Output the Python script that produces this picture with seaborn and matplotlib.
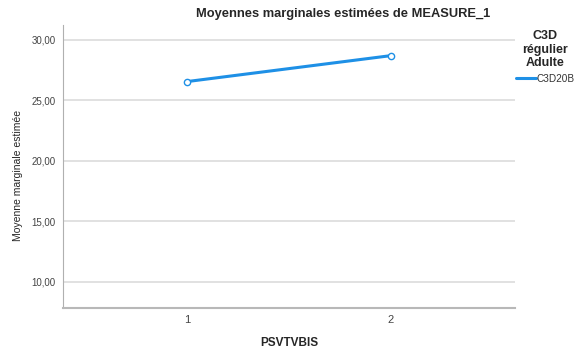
import matplotlib
matplotlib.use("Agg")
import matplotlib.pyplot as plt
import seaborn as sns
import pandas as pd

# Données
niveaux = [1, 2]
moyennes = [26.54, 28.68]
groupe = ["C3D20B", "C3D20B"]

df = pd.DataFrame({"PSVTVBIS": niveaux, "moyenne": moyennes, "groupe": groupe})

sns.set_style("white")
plt.rcParams["font.family"] = ["Liberation Sans", "DejaVu Sans"]

fig = plt.figure(figsize=(5.76, 3.49), dpi=100)
ax = fig.add_axes([0.109, 0.1175, 0.785, 0.8105])

bleu = "#1E90E6"
sns.lineplot(data=df, x="PSVTVBIS", y="moyenne", hue="groupe", palette=[bleu],
             marker="o", markersize=4.5, markerfacecolor="white",
             markeredgecolor=bleu, markeredgewidth=1.0, linewidth=2.2, ax=ax)

ax.set_xlim(0.39, 2.61)
ax.set_ylim(7.85, 31.2)
ax.set_xticks(niveaux)
ax.set_xticklabels([str(n) for n in niveaux])
ax.set_yticks([10, 15, 20, 25, 30])
ax.set_yticklabels(["10,00", "15,00", "20,00", "25,00", "30,00"])
ax.tick_params(axis="both", length=0, labelsize=7, labelcolor="#444444")
ax.tick_params(axis="x", pad=5, labelsize=8)
ax.tick_params(axis="y", pad=5)
ax.grid(axis="y", color="#dcdcdc", linewidth=1.2)
ax.set_axisbelow(True)
for s in ["top", "right"]:
    ax.spines[s].set_visible(False)
ax.spines["left"].set_color("#b0b0b0")
ax.spines["bottom"].set_color("#b8b8b8")
ax.spines["bottom"].set_linewidth(1.5)

ax.set_xlabel("PSVTVBIS", fontsize=8.5, fontweight="bold", labelpad=9)
ax.set_ylabel("Moyenne marginale estimée", fontsize=7.5)
ax.yaxis.set_label_coords(-0.088, 0.47)

fig.text(0.595, 1 - 14 / 349, "Moyennes marginales estimées de MEASURE_1",
         ha="center", va="center", fontsize=9.3, fontweight="bold")

ax.legend_.remove()
handles, labels = ax.get_legend_handles_labels()
handles[0].set_marker("")
leg = fig.legend(handles, labels, title="C3D\nrégulier\nAdulte", loc="upper left",
                 bbox_to_anchor=(0.885, 0.93), frameon=False, fontsize=7.2,
                 handlelength=2.0, handletextpad=0.1, borderaxespad=0.2,
                 title_fontproperties={"weight": "bold", "size": 9})
leg.get_title().set_multialignment("center")
leg.get_title().set_linespacing(1.12)
for t in leg.get_texts():
    t.set_color("#333333")

fig.savefig("out.png", dpi=100)
